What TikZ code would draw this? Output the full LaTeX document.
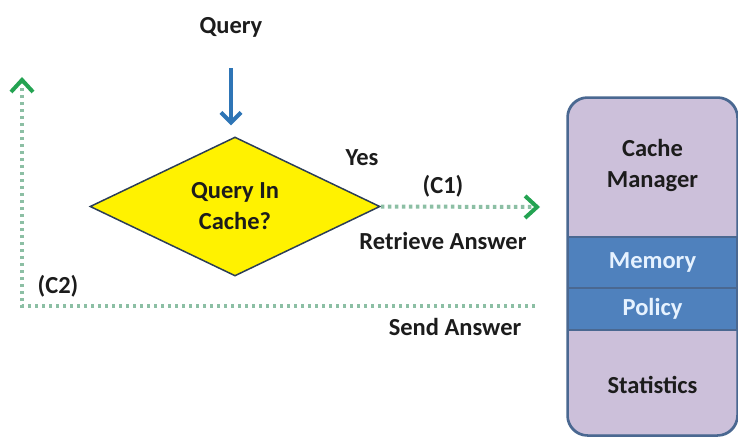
\documentclass[tikz,border=0pt]{standalone}
\usepackage{fontspec}
\setmainfont{Carlito}
\usepackage{xcolor}
\usetikzlibrary{shapes.geometric,arrows.meta}

\definecolor{qblue}{HTML}{2E75B6}
\definecolor{dotgreen}{HTML}{8CBFA4}
\definecolor{tipgreen}{HTML}{24A352}
\definecolor{lavender}{HTML}{CCC0DA}
\definecolor{bandblue}{HTML}{4F81BD}
\definecolor{edgeblue}{HTML}{4A6891}
\definecolor{paleblue}{HTML}{E6F2FF}
\definecolor{dark}{HTML}{1C1C1C}

\tikzset{
  lbl/.style={font=\fontsize{24.5}{31}\selectfont\bfseries, text=dark, inner sep=0pt},
  whitelbl/.style={lbl, text=paleblue},
  decision/.style={diamond, draw=edgeblue!60!black, line width=1.5pt, fill=yellow,
    minimum width=290pt, minimum height=139pt, aspect=2.09, inner sep=0pt,
    align=center, lbl},
  answer/.style={dotgreen, line width=4pt, dash pattern=on 3.5pt off 3.5pt,
    -{Straight Barb[color=tipgreen, line width=4pt, length=12pt, width=22pt]}},
  band/.style={rectangle, fill=bandblue, draw=edgeblue, line width=1.5pt,
    minimum width=169pt, inner sep=0pt, whitelbl}
}

\begin{document}
\begin{tikzpicture}[x=1pt,y=-1pt]
\useasboundingbox (0,0) rectangle (738,437);

% query and test
\node[lbl] (query) at (231,27) {Query};
\coordinate (qin) at (231,68);
\node[decision] (dec) at (235,206.5) {Query In\\Cache?};
\draw[qblue, line width=4pt, shorten >=11pt,
  -{Straight Barb[length=10pt, width=20pt]}] (qin) -- (qin |- dec.north);

% C1 : hit
\coordinate (c1end) at (540,207);
\draw[answer] (dec.east) -- (c1end);
\node[lbl] (yes) at (362,158) {Yes};
\node[lbl] (c1) at (443,186) {(C1)};
\node[lbl] (retr) at (443,241) {Retrieve Answer};

% C2 : send back
\coordinate (c2start) at (535,306);
\coordinate (c2corner) at (22,306);
\coordinate (c2end) at (22,77);
\draw[answer] (c2start) -- (c2corner) -- (c2end);
\node[lbl] (c2) at (58,286) {(C2)};
\node[lbl] (send) at (455,327) {Send Answer};

% cache manager
\node[draw=edgeblue, line width=1.5pt, fill=lavender, rounded corners=20pt,
  minimum width=169pt, minimum height=337pt, inner sep=0pt] (mgr) at (652.5,266.5) {};
\node[band, minimum height=51pt] (mem) at (652.5,262.5) {Memory};
\node[band, minimum height=42pt] (pol) at (652.5,309) {Policy};
\draw[edgeblue, line width=2pt, rounded corners=20pt]
  (mgr.north west) rectangle (mgr.south east);
\node[lbl, align=center] (mgrname) at (652.5,165) {Cache\\Manager};
\node[lbl] (stats) at (652.5,385) {Statistics};
\end{tikzpicture}
\end{document}
